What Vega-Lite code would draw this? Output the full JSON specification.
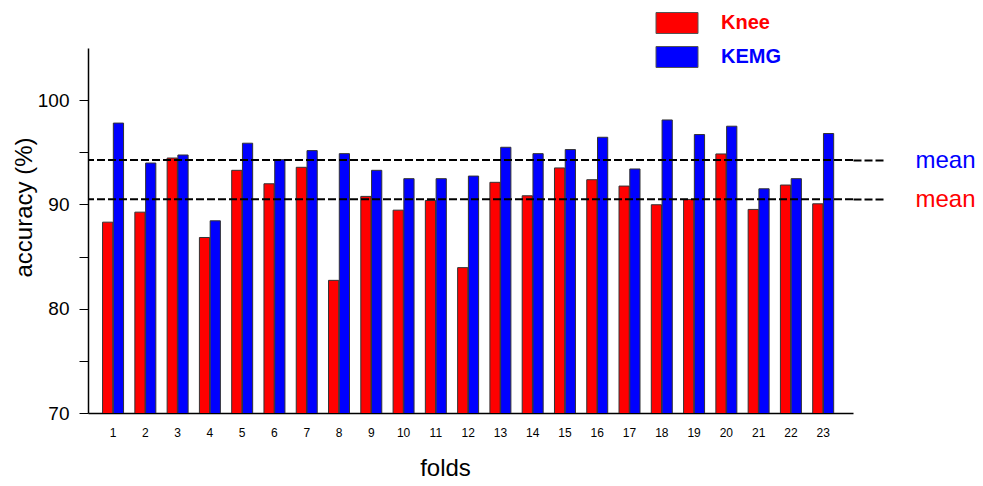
{
  "$schema": "https://vega.github.io/schema/vega-lite/v6.json",
  "width": 765,
  "height": 365,
  "autosize": {"type": "none"},
  "padding": {"left": 88, "top": 48, "right": 130, "bottom": 73},
  "background": "white",
  "config": {"view": {"stroke": null}, "font": "Liberation Sans"},
  "datasets": {
    "acc": [
      {"fold": 1, "series": "Knee", "accuracy": 88.3}, {"fold": 1, "series": "KEMG", "accuracy": 97.8},
      {"fold": 2, "series": "Knee", "accuracy": 89.26}, {"fold": 2, "series": "KEMG", "accuracy": 93.97},
      {"fold": 3, "series": "Knee", "accuracy": 94.45}, {"fold": 3, "series": "KEMG", "accuracy": 94.74},
      {"fold": 4, "series": "Knee", "accuracy": 86.83}, {"fold": 4, "series": "KEMG", "accuracy": 88.43},
      {"fold": 5, "series": "Knee", "accuracy": 93.27}, {"fold": 5, "series": "KEMG", "accuracy": 95.87},
      {"fold": 6, "series": "Knee", "accuracy": 91.98}, {"fold": 6, "series": "KEMG", "accuracy": 94.29},
      {"fold": 7, "series": "Knee", "accuracy": 93.56}, {"fold": 7, "series": "KEMG", "accuracy": 95.16},
      {"fold": 8, "series": "Knee", "accuracy": 82.72}, {"fold": 8, "series": "KEMG", "accuracy": 94.87},
      {"fold": 9, "series": "Knee", "accuracy": 90.77}, {"fold": 9, "series": "KEMG", "accuracy": 93.27},
      {"fold": 10, "series": "Knee", "accuracy": 89.45}, {"fold": 10, "series": "KEMG", "accuracy": 92.47},
      {"fold": 11, "series": "Knee", "accuracy": 90.38}, {"fold": 11, "series": "KEMG", "accuracy": 92.47},
      {"fold": 12, "series": "Knee", "accuracy": 83.94}, {"fold": 12, "series": "KEMG", "accuracy": 92.72},
      {"fold": 13, "series": "Knee", "accuracy": 92.12}, {"fold": 13, "series": "KEMG", "accuracy": 95.48},
      {"fold": 14, "series": "Knee", "accuracy": 90.83}, {"fold": 14, "series": "KEMG", "accuracy": 94.87},
      {"fold": 15, "series": "Knee", "accuracy": 93.5}, {"fold": 15, "series": "KEMG", "accuracy": 95.26},
      {"fold": 16, "series": "Knee", "accuracy": 92.37}, {"fold": 16, "series": "KEMG", "accuracy": 96.44},
      {"fold": 17, "series": "Knee", "accuracy": 91.76}, {"fold": 17, "series": "KEMG", "accuracy": 93.4},
      {"fold": 18, "series": "Knee", "accuracy": 89.97}, {"fold": 18, "series": "KEMG", "accuracy": 98.1},
      {"fold": 19, "series": "Knee", "accuracy": 90.48}, {"fold": 19, "series": "KEMG", "accuracy": 96.7},
      {"fold": 20, "series": "Knee", "accuracy": 94.84}, {"fold": 20, "series": "KEMG", "accuracy": 97.5},
      {"fold": 21, "series": "Knee", "accuracy": 89.52}, {"fold": 21, "series": "KEMG", "accuracy": 91.5},
      {"fold": 22, "series": "Knee", "accuracy": 91.86}, {"fold": 22, "series": "KEMG", "accuracy": 92.47},
      {"fold": 23, "series": "Knee", "accuracy": 90.06}, {"fold": 23, "series": "KEMG", "accuracy": 96.8}
    ],
    "means": [
      {"series": "KEMG", "mean": 94.26},
      {"series": "Knee", "mean": 90.5}
    ]
  },
  "layer": [
    {
      "data": {"name": "acc"},
      "mark": {"type": "bar", "stroke": "#333333", "strokeWidth": 1, "clip": true},
      "encoding": {
        "x": {
          "field": "fold", "type": "ordinal",
          "scale": {"paddingInner": 0.35, "paddingOuter": 0.525, "align": 0.43},
          "axis": {"title": "folds", "labelAngle": 0, "ticks": false, "domainColor": "black", "domainWidth": 1.5,
                   "labelFontSize": 12, "labelPadding": 14, "labelColor": "black",
                   "titleFontSize": 24, "titleFontWeight": "normal", "titleColor": "black", "titlePadding": 18, "titleX": 357}
        },
        "xOffset": {"field": "series", "type": "nominal", "sort": ["Knee", "KEMG"], "scale": {"paddingInner": 0.05}},
        "y": {
          "field": "accuracy", "type": "quantitative",
          "scale": {"domain": [70, 105], "nice": false, "zero": false},
          "axis": {"title": "accuracy (%)", "values": [70, 75, 80, 85, 90, 95, 100],
                   "labelExpr": "datum.value % 10 === 0 ? datum.label : ''",
                   "grid": false, "tickSize": 9, "tickColor": "black", "domainColor": "black", "domainWidth": 1.5,
                   "labelPadding": 10, "labelFontSize": 19, "labelColor": "black",
                   "titleFontSize": 24, "titleFontWeight": "normal", "titleColor": "black", "titlePadding": 1, "titleY": 159}
        },
        "color": {
          "field": "series", "type": "nominal",
          "scale": {"domain": ["Knee", "KEMG"], "range": ["#FF0000", "#0000FF"]},
          "legend": {
            "orient": "none", "legendX": 578, "legendY": -36, "title": null, "padding": 0,
            "symbolType": "M-2,-1H2V1H-2Z", "symbolSize": 441, "symbolStrokeColor": "#555555", "symbolStrokeWidth": 1, "symbolOpacity": 1,
            "labelFontSize": 20, "labelFontWeight": "bold", "labelOffset": 33, "rowPadding": 8, "labelFont": "Liberation Sans",
            "encode": {"labels": {"update": {"fill": {"signal": "datum.value === 'Knee' ? '#FF0000' : '#0000FF'"}}}}
          }
        }
      }
    },
    {
      "data": {"name": "means"},
      "mark": {"type": "rule", "strokeDash": [8, 3], "strokeWidth": 2, "color": "black"},
      "encoding": {
        "y": {
          "field": "mean", "type": "quantitative",
          "scale": {"domain": [70, 105], "nice": false, "zero": false},
          "axis": {"orient": "right", "title": null, "values": [90.5, 94.26], "labelExpr": "'mean'",
                   "domain": false, "grid": false, "tickSize": 30, "tickDash": [8, 3], "tickWidth": 2, "tickColor": "black",
                   "labelPadding": 32, "labelFontSize": 24,
                   "labelColor": {"condition": {"test": "datum.value > 92", "value": "#0000FF"}, "value": "#FF0000"}}
        }
      }
    }
  ],
  "resolve": {"scale": {"y": "independent"}}
}
